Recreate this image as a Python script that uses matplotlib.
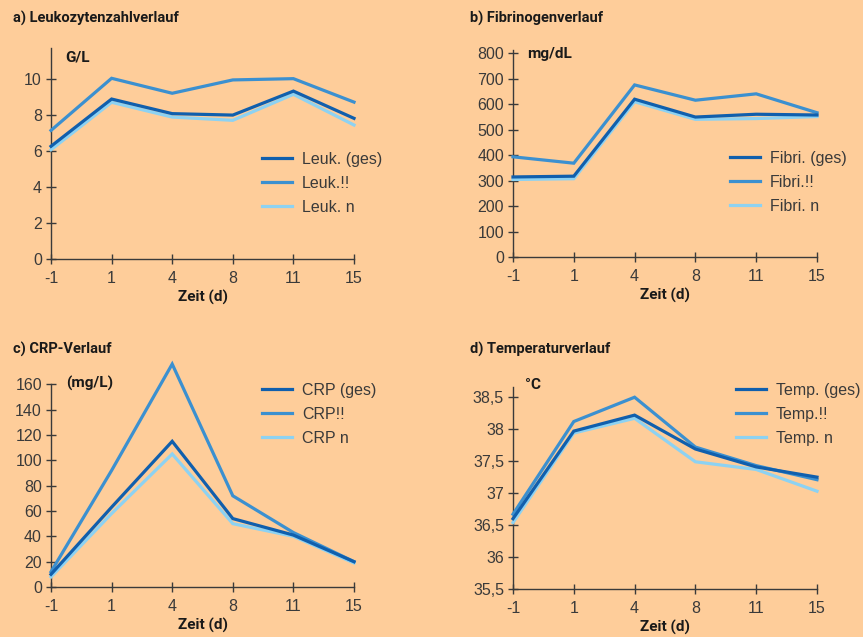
import matplotlib.pyplot as plt

# Zeitpunkte (Tage) - gleichmaessig verteilt auf der x-Achse
tage = ['-1', '1', '4', '8', '11', '15']

# a) Leukozyten (G/L)
leuk_ges = [6.25, 8.87, 8.06, 7.98, 9.31, 7.8]
leuk_krit = [7.13, 10.02, 9.19, 9.93, 10.0, 8.7]
leuk_n = [6.06, 8.69, 7.87, 7.69, 9.13, 7.43]

# b) Fibrinogen (mg/dL)
fibri_ges = [314, 317, 619, 549, 560, 557]
fibri_krit = [393, 368, 675, 615, 640, 566]
fibri_n = [304, 307, 609, 540, 543, 551]

# c) CRP (mg/L)
crp_ges = [10, 63, 115, 54, 41, 20]
crp_krit = [12, 92, 176, 72, 43, 20]
crp_n = [8, 58, 105, 50, 40, 19]

# d) Temperatur (Grad C)
temp_ges = [36.6, 37.97, 38.22, 37.69, 37.41, 37.25]
temp_krit = [36.67, 38.12, 38.5, 37.72, 37.43, 37.21]
temp_n = [36.54, 37.94, 38.17, 37.49, 37.37, 37.03]

temp_ticks = [35.5, 36, 36.5, 37, 37.5, 38, 38.5]
temp_labels = ['35,5', '36', '36,5', '37', '37,5', '38', '38,5']

BG = '#fecd9a'
C_GES = '#105fad'
C_KRIT = '#3b90d0'
C_N = '#8dd2f2'
TXT = '#3a3a3a'
W, H = 863, 637

TITLE_FONT = dict(family=['Roboto', 'DejaVu Sans'], fontweight='bold', color='#1a1a1a')
plt.rcParams['font.family'] = ['Liberation Sans', 'DejaVu Sans']

fig = plt.figure(figsize=(W / 100, H / 100), dpi=100, facecolor=BG)


def fx(px):
    return px / W


def fy(py):
    return 1 - py / H


# Ein Diagramm zeichnen (Positionen in Pixel der Vorlage)
def panel(x0, x1, y_bot, y_top, ylim, serien, namen, titel, title_xy, einheit, unit_xy,
          legend_xy, yticks, ylabels=None, spine_top=None):
    ax = fig.add_axes([fx(x0), fy(y_bot), fx(x1 - x0), (y_bot - y_top) / H])
    ax.set_facecolor('none')
    xs = range(len(tage))
    farben = [C_GES, C_KRIT, C_N]
    # hellste Linie zuerst, dunkle oben drauf
    for i in [2, 1, 0]:
        ax.plot(xs, serien[i], color=farben[i], lw=2.3, label=namen[i], clip_on=False,
                solid_joinstyle='miter', zorder=3 + (2 - i))
    ax.set_xlim(0, len(tage) - 1)
    ax.set_ylim(*ylim)
    ax.set_xticks(list(xs))
    ax.set_xticklabels(tage)
    ax.set_yticks(yticks)
    if ylabels is not None:
        ax.set_yticklabels(ylabels)
    for s in ['top', 'right']:
        ax.spines[s].set_visible(False)
    for s in ['left', 'bottom']:
        ax.spines[s].set_color(TXT)
        ax.spines[s].set_linewidth(1.0)
    if spine_top is not None:
        ax.spines['left'].set_bounds(ylim[0], spine_top)
    ax.tick_params(direction='inout', length=7, width=1.0, color=TXT, labelcolor=TXT,
                   labelsize=11.5)
    ax.tick_params(axis='x', pad=5)
    ax.tick_params(axis='y', pad=3)
    ax.set_xlabel('Zeit (d)', fontsize=11, labelpad=3, **TITLE_FONT)

    fig.text(fx(title_xy[0]), fy(title_xy[1]), titel, fontsize=10.5, va='center', ha='left', **TITLE_FONT)
    fig.text(fx(unit_xy[0]), fy(unit_xy[1]), einheit, fontsize=11, va='center', ha='left', **TITLE_FONT)

    handles, labels = ax.get_legend_handles_labels()
    order = [2, 1, 0]
    ax.legend([handles[k] for k in order], [labels[k] for k in order],
              loc='upper left', bbox_to_anchor=(fx(legend_xy[0]), fy(legend_xy[1])),
              bbox_transform=fig.transFigure, frameon=False, fontsize=11.5,
              handlelength=1.85, handletextpad=0.65, labelspacing=0.55,
              borderpad=0, borderaxespad=0, labelcolor=TXT)
    return ax


panel(51, 354, 259, 48, (0, 11.7), [leuk_ges, leuk_krit, leuk_n],
      ['Leuk. (ges)', 'Leuk.!!', 'Leuk. n'], 'a) Leukozytenzahlverlauf', (13, 18),
      'G/L', (65, 57), (262, 152), [0, 2, 4, 6, 8, 10])

panel(513, 817, 257, 50, (0, 812), [fibri_ges, fibri_krit, fibri_n],
      ['Fibri. (ges)', 'Fibri.!!', 'Fibri. n'], 'b) Fibrinogenverlauf', (470, 18),
      'mg/dL', (527, 54), (730, 151), list(range(0, 801, 100)))

panel(51, 354, 587, 359, (0, 180), [crp_ges, crp_krit, crp_n],
      ['CRP (ges)', 'CRP!!', 'CRP n'], 'c) CRP-Verlauf', (13, 349),
      '(mg/L)', (66, 383), (262, 383), list(range(0, 161, 20)), spine_top=160)

panel(513, 817, 589, 387, (35.5, 38.66), [temp_ges, temp_krit, temp_n],
      ['Temp. (ges)', 'Temp.!!', 'Temp. n'], 'd) Temperaturverlauf', (470, 349),
      '°C', (525, 385), (736, 383), temp_ticks, ylabels=temp_labels)

fig.savefig('out.png', dpi=100, facecolor=BG)
